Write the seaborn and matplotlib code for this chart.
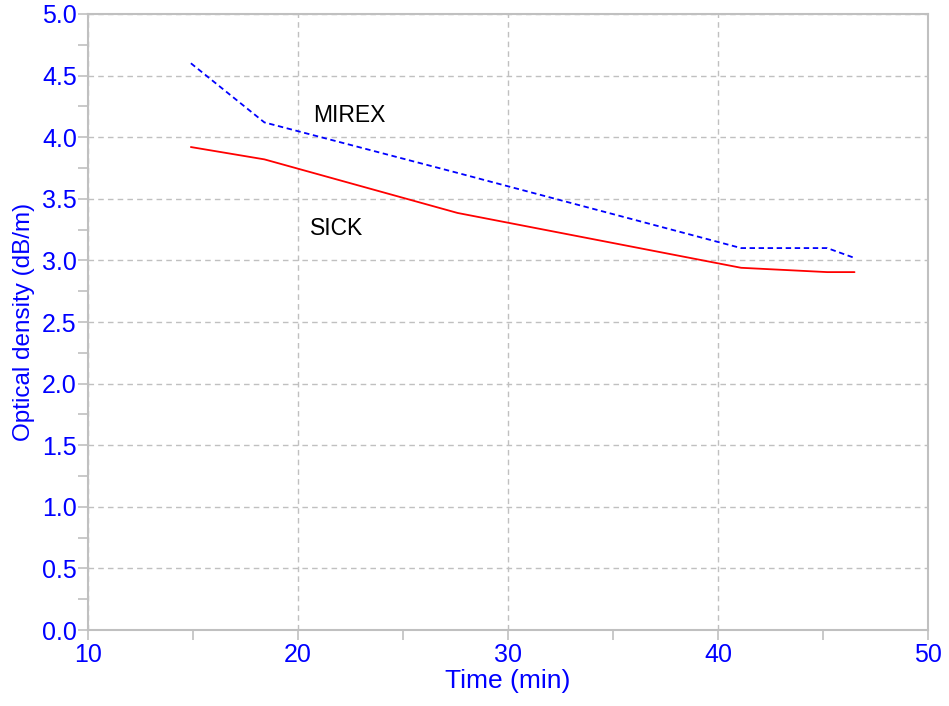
import matplotlib
matplotlib.use("Agg")
import matplotlib.pyplot as plt
from matplotlib.ticker import MultipleLocator
import seaborn as sns
import pandas as pd

# Data
mirex_time = [14.9, 18.4, 27.6, 41.1, 45.2, 46.5]
mirex_od = [4.60, 4.12, 3.71, 3.10, 3.10, 3.02]
sick_time = [14.9, 18.4, 27.6, 41.1, 45.2, 46.5]
sick_od = [3.92, 3.82, 3.385, 2.94, 2.905, 2.905]
series_names = ["MIREX", "SICK"]

df = pd.concat([
    pd.DataFrame({"Time": mirex_time, "OD": mirex_od, "series": series_names[0]}),
    pd.DataFrame({"Time": sick_time, "OD": sick_od, "series": series_names[1]}),
])

sns.set_style("white")
plt.rcParams["font.family"] = ["Liberation Sans", "DejaVu Sans"]

fig = plt.figure(figsize=(9.49, 7.06), dpi=100)
ax = fig.add_axes([0.0927, 0.1076, 0.8852, 0.8726])

sns.lineplot(data=df, x="Time", y="OD", hue="series", style="series",
             palette={"MIREX": "#0000ff", "SICK": "#ff0000"},
             dashes={"MIREX": (3, 2), "SICK": ""},
             sort=False, legend=False, ax=ax, linewidth=1.3)

ax.set_xlim(10, 50)
ax.set_ylim(0, 5)
ax.xaxis.set_major_locator(MultipleLocator(10))
ax.xaxis.set_minor_locator(MultipleLocator(5))
ax.yaxis.set_major_locator(MultipleLocator(0.5))
ax.yaxis.set_minor_locator(MultipleLocator(0.25))
ax.yaxis.set_major_formatter(matplotlib.ticker.FormatStrFormatter("%.1f"))

ax.grid(True, which="major", color="#c0c0c0", linestyle=(0, (4, 3)), linewidth=1.0)
for s in ax.spines.values():
    s.set_color("#c0c0c0")
    s.set_linewidth(1.5)

ax.tick_params(which="both", direction="out", color="#c0c0c0", width=1.2,
               labelcolor="#0000ff", labelsize=18, bottom=True, left=True,
               top=False, right=False, length=7)
ax.tick_params(axis="x", which="major", pad=2)
ax.tick_params(axis="y", which="major", pad=1)

ax.set_xlabel("Time (min)", color="#0000ff", fontsize=19, labelpad=2)
ax.set_ylabel("Optical density (dB/m)", color="#0000ff", fontsize=17.5, labelpad=5)

ax.text(20.7, 4.18, "MIREX", fontsize=16.5, color="black", va="center", ha="left")
ax.text(20.55, 3.26, "SICK", fontsize=16.5, color="black", va="center", ha="left")

fig.savefig("out.png", dpi=100)
